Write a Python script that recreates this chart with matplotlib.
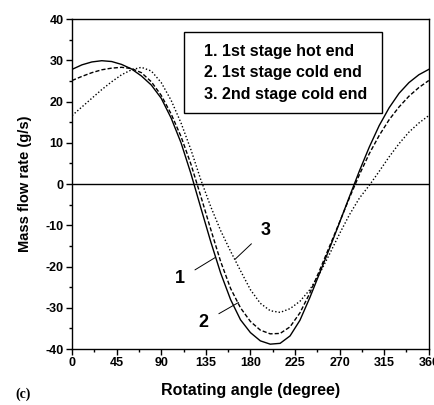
import matplotlib
matplotlib.use("Agg")
import matplotlib.pyplot as plt
from matplotlib.ticker import MultipleLocator
from matplotlib.patches import Rectangle

plt.rcParams['font.family'] = ['Liberation Sans', 'DejaVu Sans']
plt.rcParams['font.weight'] = 'bold'
plt.rcParams['axes.unicode_minus'] = False

# rotating angle (degree)
angle = list(range(0, 361, 10))

# mass flow rate (g/s)
hot_1st = [27.8, 28.9, 29.6, 29.9, 29.7, 29.0, 27.9, 26.2, 24.0, 20.8,
           16.0, 10.0, 2.5, -5.8, -14.0, -21.6, -28.0, -32.9, -36.0, -38.0,
           -38.8, -38.6, -36.8, -33.0, -27.5, -21.5, -15.5, -9.3, -3.0, 3.2,
           9.0, 14.2, 18.5, 22.0, 24.6, 26.5, 27.8]
cold_1st = [25.1, 26.1, 27.0, 27.7, 28.1, 28.3, 28.0, 27.0, 24.8, 21.5,
            17.0, 11.5, 4.8, -3.0, -11.0, -18.8, -25.3, -30.0, -33.3, -35.4,
            -36.3, -36.2, -34.6, -31.2, -26.4, -20.8, -15.0, -9.2, -3.3, 2.3,
            7.4, 11.8, 15.6, 18.7, 21.3, 23.4, 25.1]
cold_2nd = [16.6, 18.7, 20.8, 22.9, 24.8, 26.5, 27.7, 28.3, 27.4, 24.6,
            20.3, 14.8, 8.3, 1.0, -5.5, -11.3, -16.3, -21.0, -25.6, -28.9,
            -30.7, -31.1, -30.2, -28.4, -25.6, -21.6, -16.9, -12.0, -7.4, -3.4,
            -0.3, 3.1, 6.6, 9.8, 12.6, 14.8, 16.6]

legend_lines = ["1. 1st stage hot end", "2. 1st stage cold end", "3. 2nd stage cold end"]

fig = plt.figure(figsize=(4.34, 4.05), dpi=100)
ax = fig.add_axes([0.166, 0.138, 0.822, 0.815])

ax.plot(angle, hot_1st, color='black', lw=1.0, ls='-')
ax.plot(angle, cold_1st, color='black', lw=1.0, ls=(0, (3, 1.5)))
ax.plot(angle, cold_2nd, color='black', lw=1.0, ls=(0, (1, 1.5)))
ax.axhline(0, color='black', lw=1.0)

# curve labels with leader lines
arrow = dict(arrowstyle='-', lw=0.7, color='black', shrinkA=6, shrinkB=0)
ax.annotate('1', xy=(144.5, -17.8), xytext=(109, -23), fontsize=13, fontweight='bold',
            ha='center', va='center', arrowprops=arrow)
ax.annotate('2', xy=(168, -28.7), xytext=(133, -33.5), fontsize=13, fontweight='bold',
            ha='center', va='center', arrowprops=arrow)
ax.annotate('3', xy=(164.6, -18.2), xytext=(195, -11.3), fontsize=13, fontweight='bold',
            ha='center', va='center', arrowprops=arrow)

# text box in upper part
ax.add_patch(Rectangle((0.314, 0.715), 0.554, 0.246, transform=ax.transAxes,
                       fc='white', ec='black', lw=1.0, zorder=3))
for yy, line in zip([0.903, 0.839, 0.772], legend_lines):
    ax.text(0.37, yy, line, transform=ax.transAxes, fontsize=11.5, fontweight='bold',
            ha='left', va='center', zorder=4)

ax.set_xlim(0, 360)
ax.set_ylim(-40, 40)
ax.xaxis.set_major_locator(MultipleLocator(45))
ax.xaxis.set_minor_locator(MultipleLocator(22.5))
ax.yaxis.set_major_locator(MultipleLocator(10))
ax.yaxis.set_minor_locator(MultipleLocator(5))
ax.tick_params(which='major', direction='out', length=4, width=1, labelsize=9, pad=2)
ax.tick_params(which='minor', direction='out', length=2, width=1)
for lab in ax.get_xticklabels() + ax.get_yticklabels():
    lab.set_fontweight('bold')
for s in ax.spines.values():
    s.set_linewidth(1.0)

ax.set_xlabel('Rotating angle (degree)', fontsize=11.5, fontweight='bold', labelpad=10)
ax.set_ylabel('Mass flow rate (g/s)', fontsize=10.5, fontweight='bold', labelpad=10)

fig.text(0.035, 0.018, '(c)', fontsize=10, fontweight='bold', family='Liberation Serif')

fig.savefig('out.png', dpi=100)
